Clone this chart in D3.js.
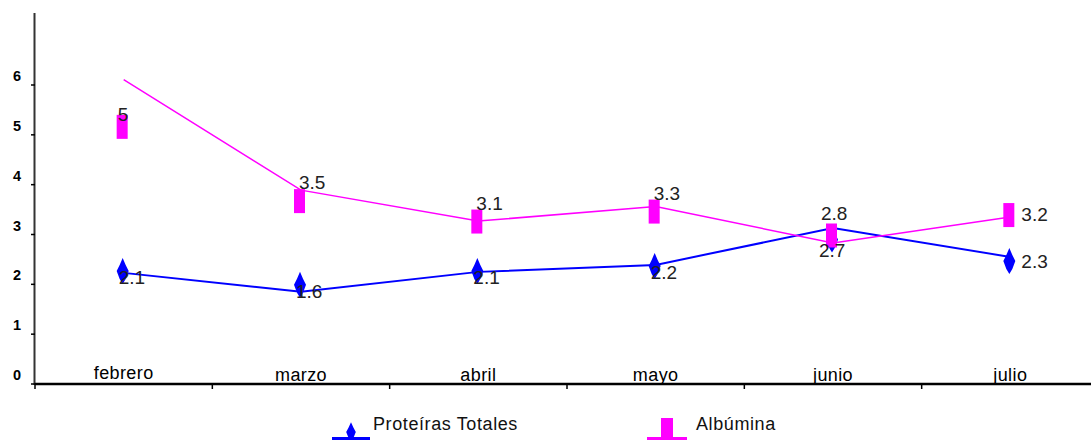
<!DOCTYPE html>
<html>
<head>
<meta charset="utf-8">
<script src="https://cdn.jsdelivr.net/npm/d3@7"></script>
<style>
  html, body { margin: 0; padding: 0; background: #fff; }
  svg { display: block; }
  text { font-family: "Liberation Sans", Arial, sans-serif; }
</style>
</head>
<body>
<svg id="chart" width="1091" height="440"></svg>
<script>
// ---- data ----
const months = ["febrero", "marzo", "abril", "mayo", "junio", "julio"];
const yTicks = [0, 1, 2, 3, 4, 5, 6];

// Proteíras Totales
const protLine   = [2.23, 1.85, 2.25, 2.39, 3.13, 2.55];
const protMarker = [2.27, 1.99, 2.27, 2.37, 2.90, 2.47];
const protLabels = ["2.1", "1.6", "2.1", "2.2", "2.8", "2.3"];

// Albúmina
const albLine   = [6.11, 3.89, 3.27, 3.56, 2.83, 3.35];
const albMarker = [5.16, 3.67, 3.26, 3.46, 2.98, 3.39];
const albLabels = ["5", "3.5", "3.1", "3.3", "2.7", "3.2"];

const seriesNames = ["Proteíras Totales", "Albúmina"];

// ---- layout ----
const svg = d3.select("#chart");
const x0 = 35, xEnd = 1099, yZero = 384, ySix = 85;

const x = d3.scaleBand().domain(months).range([x0, xEnd]).padding(0);
const y = d3.scaleLinear().domain([0, 6]).range([yZero, ySix]);
const cx = m => x(m) + x.bandwidth() / 2;

const BLUE = "#0000ff", PINK = "#ff00ff";

// y axis
svg.append("line").attr("x1", 34.5).attr("x2", 34.5).attr("y1", 13).attr("y2", yZero + 1)
  .attr("stroke", "#333").attr("stroke-width", 2);
const yAx = svg.append("g");
yAx.selectAll("line.t").data(yTicks).join("line")
  .attr("x1", 31).attr("x2", 35).attr("y1", d => y(d)).attr("y2", d => y(d))
  .attr("stroke", "#000").attr("stroke-width", 1.5);
yAx.selectAll("text").data(yTicks).join("text")
  .attr("x", 17).attr("y", d => y(d) - 4)
  .attr("text-anchor", "middle")
  .attr("font-size", 14.5).attr("font-weight", "bold").attr("fill", "#000")
  .text(d => d);

// x axis
svg.append("line").attr("x1", x0).attr("x2", 1091).attr("y1", yZero).attr("y2", yZero)
  .attr("stroke", "#000").attr("stroke-width", 2.5);
svg.append("g").selectAll("line").data(months).join("line")
  .attr("x1", d => x(d)).attr("x2", d => x(d))
  .attr("y1", yZero).attr("y2", yZero + 5)
  .attr("stroke", "#000").attr("stroke-width", 1.5);
svg.append("g").selectAll("text").data(months).join("text")
  .attr("x", d => cx(d)).attr("y", (d, i) => i === 0 ? 379 : 381)
  .attr("text-anchor", "middle")
  .attr("font-size", 18).attr("letter-spacing", 0.4).attr("fill", "#000")
  .text(d => d);

// lines
const lineGen = d3.line().x((d, i) => cx(months[i])).y(d => y(d));
svg.append("path").datum(protLine).attr("d", lineGen)
  .attr("fill", "none").attr("stroke", BLUE).attr("stroke-width", 2);
svg.append("path").datum(albLine).attr("d", lineGen)
  .attr("fill", "none").attr("stroke", PINK).attr("stroke-width", 1.5);

// markers
const diamond = "M0,-13 L3,-6 L6,0 L3,8 L0,13 L-3,8 L-6,0 L-3,-6 Z";
svg.append("g").selectAll("path").data(protMarker).join("path")
  .attr("d", diamond)
  .attr("transform", (d, i) => `translate(${cx(months[i]) - 1},${y(d)})`)
  .attr("fill", BLUE);
svg.append("g").selectAll("rect").data(albMarker).join("rect")
  .attr("x", (d, i) => cx(months[i]) - 7).attr("y", d => y(d) - 12)
  .attr("width", 11).attr("height", 24)
  .attr("fill", PINK);

// data labels
function labelPos(series, i, v) {
  const px = cx(months[i]) - 2, py = y(v);
  if (i === 5) return [px + 13, py + (series === 0 ? 7 : 6)];
  if (series === 1) {
    if (i === 4) return [px - 12, py + 22];
    if (i === 0) return [px - 4, py - 6];
    return [px + 0, py - 12];
  } else {
    if (i === 4) return [px - 10, py - 19];
    return [px - 3, py + 13];
  }
}
const lbl = svg.append("g").attr("font-size", 19).attr("fill", "#222");
protLabels.forEach((t, i) => {
  const [lx, ly] = labelPos(0, i, protMarker[i]);
  lbl.append("text").attr("x", lx).attr("y", ly).text(t);
});
albLabels.forEach((t, i) => {
  const [lx, ly] = labelPos(1, i, albMarker[i]);
  lbl.append("text").attr("x", lx).attr("y", ly).text(t);
});

// legend
const leg = svg.append("g");
const legItems = [
  { name: seriesNames[0], color: BLUE, x1: 332, x2: 370, tx: 373, type: "d" },
  { name: seriesNames[1], color: PINK, x1: 647, x2: 687, tx: 696, type: "r" }
];
legItems.forEach(it => {
  leg.append("line").attr("x1", it.x1).attr("x2", it.x2).attr("y1", 438.5).attr("y2", 438.5)
    .attr("stroke", it.color).attr("stroke-width", 3);
  const mx = (it.x1 + it.x2) / 2;
  if (it.type === "d") {
    leg.append("path").attr("d", diamond)
      .attr("transform", `translate(${mx},${432}) scale(0.8,0.75)`).attr("fill", it.color);
  } else {
    leg.append("rect").attr("x", mx - 6).attr("y", 418).attr("width", 12).attr("height", 22)
      .attr("fill", it.color);
  }
  leg.append("text").attr("x", it.tx).attr("y", 430)
    .attr("font-size", 18).attr("letter-spacing", 0.6).attr("fill", "#111")
    .text(it.name);
});
</script>
</body>
</html>
